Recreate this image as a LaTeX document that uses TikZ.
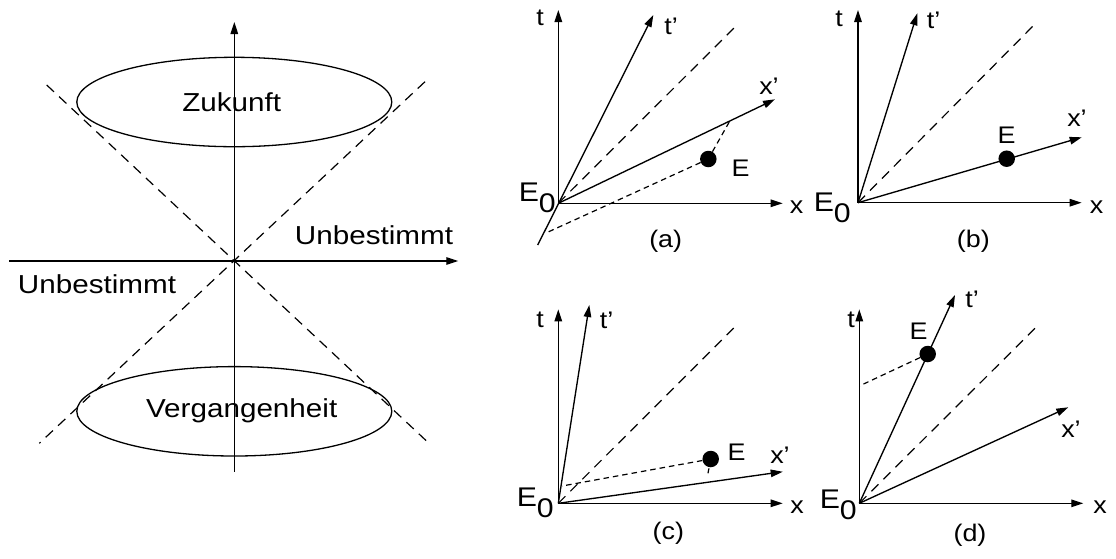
\documentclass[tikz,border=0pt]{standalone}
\usepackage{fontspec}
\setmainfont{Liberation Sans}
\usetikzlibrary{arrows.meta}
\newcommand\wbig[1]{\scalebox{1.14}[1]{#1}}
\newcommand\wsm[1]{\scalebox{1.12}[1]{#1}}
\newcommand\Ezero{\wsm{E\raisebox{-11pt}{0}}}
\begin{document}
\begin{tikzpicture}[x=1pt,y=-1pt,
  axis/.style={line width=1.35pt,-{Triangle[length=12pt,width=7.5pt]}},
  plain/.style={line width=1.3pt},
  cone/.style={line width=1.2pt,dash pattern=on 10pt off 7pt},
  aux/.style={line width=1.2pt,dash pattern=on 5.5pt off 4pt},
  dot/.style={circle,fill=black,inner sep=0pt,minimum size=16.5pt},
  big/.style={font=\fontsize{26}{30}\selectfont,inner sep=0pt},
  sm/.style={font=\fontsize{24}{28}\selectfont,inner sep=0pt},
  ez/.style={font=\fontsize{27}{30}\selectfont,inner sep=0pt,anchor=base east}]
\useasboundingbox (0,0) rectangle (1116,558);
% ---------------- light cone ----------------
\coordinate (O) at (234.3,261);
\coordinate (tT) at (234.3,22);
\coordinate (tB) at (234.3,471.7);
\coordinate (xL) at (9.3,261);
\coordinate (xR) at (458.3,261);
\coordinate (c1a) at (46.7,85);
\coordinate (c1b) at (429,443.3);
\coordinate (c2a) at (425,81.7);
\coordinate (c2b) at (39.3,443.3);
\draw[plain] (234.3,102) ellipse [x radius=157.5pt, y radius=44.7pt];
\draw[plain] (234.3,411.3) ellipse [x radius=157.5pt, y radius=44.7pt];
\draw[axis] (tB) -- (tT);
\draw[axis] (xL) -- (xR);
\draw[cone] (c1a) -- (c1b);
\draw[cone] (c2a) -- (c2b);
\node[big] (zuk) at (231.7,102) {\wbig{Zukunft}};
\node[big] (verg) at (241.7,411) {\wbig{Vergangenheit}};
\node[big] (unbR) at (374,235) {\wbig{Unbestimmt}};
\node[big] (unbL) at (97,284) {\wbig{Unbestimmt}};
% ---------------- (a) ----------------
\coordinate (Oa) at (558.3,203.3);
\coordinate (ta) at (558.3,10);
\coordinate (xa) at (782.7,203.3);
\coordinate (tpa) at (653.3,15);
\coordinate (tpa0) at (537.7,245);
\coordinate (xpa) at (775,99.3);
\coordinate (la) at (736,26);
\draw[axis] (Oa) -- (ta);
\draw[axis] (Oa) -- (xa);
\draw[axis] (tpa0) -- (tpa);
\draw[axis] (Oa) -- (xpa);
\draw[cone] (Oa) -- (la);
\node[dot] (Ea) at (708.3,159) {};
\coordinate (Ea1) at (729.5,121.5);
\coordinate (Ea2) at (547,232.5);
\draw[aux] (Ea) -- (Ea1);
\draw[aux] (Ea) -- (Ea2);
\node[sm] (Lta) at (540,18) {\wsm{t}};
\node[sm] (Ltpa) at (671,26) {\wsm{t’}};
\node[sm] (Lxpa) at (769,86) {\wsm{x’}};
\node[sm] (Lxa) at (796.5,207) {\wsm{x}};
\node[sm] (LEa) at (740.7,168) {\wsm{E}};
\node[ez] (E0a) at (556,201.7) {\Ezero};
\node[sm] (capa) at (665.7,241.7) {\wsm{(a)}};
% ---------------- (b) ----------------
\coordinate (Ob) at (858,202.7);
\coordinate (tb) at (858,10);
\coordinate (xb) at (1081.7,202.7);
\coordinate (tpb) at (917.3,13.3);
\coordinate (xpb) at (1081.7,137.3);
\coordinate (lb) at (1035,24);
\draw[axis] (Ob) -- (tb);
\draw[axis] (Ob) -- (xb);
\draw[axis] (Ob) -- (tpb);
\draw[axis] (Ob) -- (xpb);
\draw[cone] (Ob) -- (lb);
\node[dot] (Eb) at (1006.7,158.7) {};
\node[sm] (Ltb) at (839,19) {\wsm{t}};
\node[sm] (Ltpb) at (933.5,20) {\wsm{t’}};
\node[sm] (Lxpb) at (1077,118) {\wsm{x’}};
\node[sm] (Lxb) at (1096.5,207) {\wsm{x}};
\node[sm] (LEb) at (1006.7,135) {\wsm{E}};
\node[ez] (E0b) at (851,211.7) {\Ezero};
\node[sm] (capb) at (973.3,241.7) {\wsm{(b)}};
% ---------------- (c) ----------------
\coordinate (Oc) at (558.3,503.3);
\coordinate (tc) at (558.3,309.3);
\coordinate (xc) at (782.7,503.3);
\coordinate (tpc) at (589.3,305);
\coordinate (xpc) at (782.7,471.7);
\coordinate (lc) at (736.7,325);
\draw[axis] (Oc) -- (tc);
\draw[axis] (Oc) -- (xc);
\draw[axis] (Oc) -- (tpc);
\draw[axis] (Oc) -- (xpc);
\draw[cone] (Oc) -- (lc);
\node[dot] (Ec) at (710.7,459) {};
\coordinate (Ec1) at (562,486);
\coordinate (Ec2) at (707.2,477.5);
\draw[aux] (Ec) -- (Ec1);
\draw[aux,dash pattern=on 0pt off 9.5pt on 5pt off 20pt] (Ec.center) -- (Ec2);
\node[sm] (Ltc) at (540,320) {\wsm{t}};
\node[sm] (Ltpc) at (606.5,320) {\wsm{t’}};
\node[sm] (Lxpc) at (780,455) {\wsm{x’}};
\node[sm] (Lxc) at (797,507) {\wsm{x}};
\node[sm] (LEc) at (736.5,452.5) {\wsm{E}};
\node[ez] (E0c) at (554,506.7) {\Ezero};
\node[sm] (capc) at (668.3,533.3) {\wsm{(c)}};
% ---------------- (d) ----------------
\coordinate (Od) at (859.3,503.3);
\coordinate (td) at (859.3,309.3);
\coordinate (xd) at (1083.3,503.3);
\coordinate (tpd) at (955,295);
\coordinate (xpd) at (1068.3,407.3);
\coordinate (ld) at (1038.3,325);
\draw[axis] (Od) -- (td);
\draw[axis] (Od) -- (xd);
\draw[axis] (Od) -- (tpd);
\draw[axis] (Od) -- (xpd);
\draw[cone] (Od) -- (ld);
\node[dot] (Ed) at (927.7,354) {};
\coordinate (Ed1) at (859.3,386);
\draw[aux] (Ed) -- (Ed1);
\node[sm] (Ltd) at (851,320) {\wsm{t}};
\node[sm] (Ltpd) at (972,299) {\wsm{t’}};
\node[sm] (Lxpd) at (1071,429) {\wsm{x’}};
\node[sm] (Lxd) at (1100,507) {\wsm{x}};
\node[sm] (LEd) at (918.5,331) {\wsm{E}};
\node[ez] (E0d) at (857,508) {\Ezero};
\node[sm] (capd) at (970,535) {\wsm{(d)}};
\end{tikzpicture}
\end{document}
